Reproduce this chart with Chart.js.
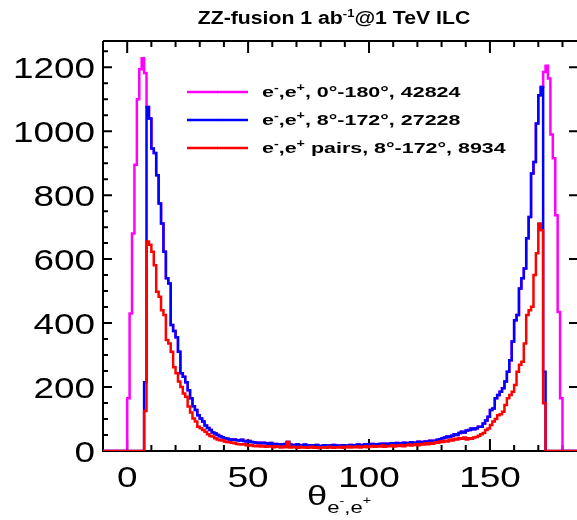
<!DOCTYPE html>
<html>
<head>
<meta charset="utf-8">
<script src="https://cdn.jsdelivr.net/npm/chart.js@4.4.1/dist/chart.umd.min.js"></script>
<style>
  html, body { margin: 0; padding: 0; background: #fff; }
  #wrap { width: 577px; height: 520px; }
</style>
</head>
<body>
<div id="wrap"><canvas id="chart" width="577" height="520"></canvas></div>
<script>
// Histogram data, 1 degree bins (bin i covers i..i+1)

// blue and red start at bin 7 and end at bin 172
const firstCutBin = 7;

const blueCounts = [
    215, 1076, 1040, 946, 932, 862, 774, 711, 623, 540,
    524, 394, 375, 356, 310, 243, 232, 215, 190, 165,
    140, 128, 112, 102, 92, 80, 72, 66, 58, 55,
    50, 46, 43, 40, 38, 36, 35, 36, 34, 33,
    35, 31, 30, 31, 28, 27, 25, 26, 24, 26,
    24, 22, 25, 21, 22, 20, 21, 19, 22, 28,
    20, 18, 19, 21, 17, 18, 20, 17, 16, 18,
    17, 19, 16, 15, 18, 17, 16, 18, 19, 16,
    17, 15, 18, 17, 16, 19, 18, 17, 20, 19,
    18, 21, 19, 20, 22, 21, 19, 22, 23, 20,
    23, 22, 24, 21, 25, 24, 23, 26, 24, 25,
    27, 25, 26, 29, 27, 28, 30, 29, 32, 31,
    32, 35, 37, 40, 42, 45, 44, 48, 52, 50,
    56, 60, 58, 64, 66, 70, 68, 71, 76, 76,
    86, 95, 107, 128, 133, 165, 175, 185, 196, 217,
    248, 284, 342, 409, 425, 508, 540, 571, 665, 732,
    868, 904, 1024, 1112, 1138, 248
];

const redCounts = [
    125, 655, 645, 623, 581, 498, 482, 440, 425, 347,
    336, 310, 262, 243, 217, 200, 180, 170, 139, 120,
    102, 92, 76, 71, 66, 60, 52, 47, 45, 40,
    36, 34, 33, 30, 28, 27, 26, 24, 22, 21,
    20, 21, 18, 17, 19, 16, 15, 17, 14, 16,
    13, 15, 14, 12, 15, 13, 11, 14, 12, 28,
    11, 13, 12, 10, 13, 11, 12, 10, 11, 13,
    10, 12, 9, 11, 12, 10, 13, 11, 10, 12,
    11, 13, 10, 12, 14, 11, 13, 12, 14, 11,
    13, 15, 12, 14, 16, 13, 15, 14, 17, 13,
    16, 15, 18, 14, 17, 16, 19, 15, 18, 20,
    17, 19, 21, 18, 22, 20, 24, 21, 25, 23,
    27, 26, 30, 28, 32, 30, 35, 33, 38, 36,
    40, 38, 42, 36, 40, 38, 42, 44, 48, 52,
    56, 66, 70, 81, 92, 100, 112, 115, 123, 144,
    165, 175, 185, 206, 248, 270, 279, 336, 425, 440,
    451, 550, 618, 711, 690, 149
];

// magenta (0-180) only differs from blue outside 8-172
const magentaLow = [165, 430, 680, 895, 1100, 1194, 1228, 1182];   // bins 0-7
const magentaHigh = [1185, 1205, 1165, 990, 915, 737, 435, 165];   // bins 172-179

const xRange = [-10, 186];
const yRange = [0, 1282];
const xTickLabels = [0, 50, 100, 150];
const yTickLabels = [0, 200, 400, 600, 800, 1000, 1200];

const legendLabels = [
    [['e', ''], ['-', 'sup'], [',e', ''], ['+', 'sup'], [', 0\u00b0-180\u00b0, 42824', '']],
    [['e', ''], ['-', 'sup'], [',e', ''], ['+', 'sup'], [', 8\u00b0-172\u00b0, 27228', '']],
    [['e', ''], ['-', 'sup'], [',e', ''], ['+', 'sup'], [' pairs, 8\u00b0-172\u00b0, 8934', '']]
];
const colors = ['#ff00ff', '#0000ff', '#ff0000'];

const FONT = '"Liberation Sans", Arial, Helvetica, sans-serif';

// Build magenta from its tails plus the blue core
function buildMagenta() {
    const counts = [];
    for (let i = 0; i < 180; i++) {
        if (i < magentaLow.length) counts.push(magentaLow[i]);
        else if (i >= 172) counts.push(magentaHigh[i - 172]);
        else counts.push(blueCounts[i - firstCutBin]);
    }
    return counts;
}

// Turn bin counts into step points at the bin low edges
function histPoints(start, counts) {
    const pts = [{ x: xRange[0], y: 0 }, { x: start, y: 0 }];
    counts.forEach((c, i) => pts.push({ x: start + i, y: c }));
    pts.push({ x: start + counts.length, y: 0 });
    pts.push({ x: xRange[1], y: 0 });
    return pts;
}

// Draw a run of text pieces with superscripts, stretched sideways by sx
// (the text in the picture is wider than the plain font)
function richText(ctx, runs, x, y, align, sx) {
    ctx.save();
    let total = 0;
    runs.forEach(r => {
        ctx.font = r.font;
        total += ctx.measureText(r.text).width * sx;
    });
    let cx = align === 'right' ? x - total : align === 'center' ? x - total / 2 : x;
    runs.forEach(r => {
        ctx.font = r.font;
        ctx.save();
        ctx.translate(cx, y + (r.dy || 0));
        ctx.scale(sx, 1);
        ctx.fillText(r.text, 0, 0);
        ctx.restore();
        cx += ctx.measureText(r.text).width * sx;
    });
    ctx.restore();
}

const framePlugin = {
    id: 'frame',
    beforeDatasetsDraw(chart) {
        const { ctx, chartArea: a, scales } = chart;
        const xs = scales.x, ys = scales.y;
        ctx.save();
        ctx.strokeStyle = '#000';
        ctx.lineWidth = 2;
        ctx.beginPath();
        ctx.moveTo(a.left, a.top);
        ctx.lineTo(a.left, a.bottom);
        ctx.lineTo(a.right, a.bottom);
        ctx.moveTo(a.left, a.top);
        ctx.lineTo(a.right, a.top);
        // x ticks, bottom and top
        for (let v = 0; v <= 180; v += 10) {
            const px = xs.getPixelForValue(v);
            const len = v % 50 === 0 ? 12 : 6;
            ctx.moveTo(px, a.bottom);
            ctx.lineTo(px, a.bottom - len);
            ctx.moveTo(px, a.top);
            ctx.lineTo(px, a.top + len);
        }
        // y ticks, left minor+major, right major
        for (let v = 0; v <= yRange[1]; v += 50) {
            const py = ys.getPixelForValue(v);
            const major = v % 200 === 0;
            ctx.moveTo(a.left, py);
            ctx.lineTo(a.left + (major ? 9 : 5), py);
            if (major) {
                ctx.moveTo(a.right, py);
                ctx.lineTo(a.right - 8, py);
            }
        }
        ctx.stroke();
        ctx.restore();
    },
    afterDraw(chart) {
        const { ctx, chartArea: a, scales } = chart;
        const xs = scales.x, ys = scales.y;
        ctx.save();
        ctx.fillStyle = '#000';
        ctx.textBaseline = 'alphabetic';

        const tickFont = '30px ' + FONT;
        yTickLabels.forEach(v => {
            richText(ctx, [{ text: String(v), font: tickFont }], a.left - 8, ys.getPixelForValue(v) + 11, 'right', 1.23);
        });
        xTickLabels.forEach(v => {
            richText(ctx, [{ text: String(v), font: tickFont }], xs.getPixelForValue(v), 487, 'center', 1.23);
        });

        // axis title
        richText(ctx, [
            { text: '\u03b8', font: '28px ' + FONT },
            { text: 'e', font: '17px ' + FONT, dy: 8 },
            { text: '-', font: '11px ' + FONT, dy: -1 },
            { text: ',e', font: '17px ' + FONT, dy: 8 },
            { text: '+', font: '11px ' + FONT, dy: -1 }
        ], 339, 505, 'center', 1.3);

        // title
        richText(ctx, [
            { text: 'ZZ-fusion 1 ab', font: 'bold 18px ' + FONT },
            { text: '-1', font: 'bold 11px ' + FONT, dy: -7 },
            { text: '@1 TeV ILC', font: 'bold 18px ' + FONT }
        ], 334, 24, 'center', 1.18);

        // legend
        legendLabels.forEach((label, i) => {
            const y = 92 + i * 28;
            ctx.strokeStyle = colors[i];
            ctx.lineWidth = 2.5;
            ctx.beginPath();
            ctx.moveTo(187, y);
            ctx.lineTo(248, y);
            ctx.stroke();
            ctx.fillRect(217, y - 0.5, 1, 1);
            const runs = label.map(([text, kind]) => kind === 'sup'
                ? { text: text, font: 'bold 10px ' + FONT, dy: -6 }
                : { text: text, font: 'bold 15px ' + FONT });
            richText(ctx, runs, 262, y + 5, 'left', 1.43);
        });
        ctx.restore();
    }
};

const magentaCounts = buildMagenta();

function lineSet(label, color, start, counts, order) {
    return {
        label: label,
        data: histPoints(start, counts),
        borderColor: color,
        borderWidth: 2.5,
        stepped: 'before',
        pointRadius: 0,
        fill: false,
        order: order
    };
}

const ctx = document.getElementById('chart').getContext('2d');
const chart = new Chart(ctx, {
    type: 'line',
    data: {
        datasets: [
            lineSet('e-,e+ pairs, 8-172', colors[2], firstCutBin, redCounts, 0),
            lineSet('e-,e+, 8-172', colors[1], firstCutBin, blueCounts, 1),
            lineSet('e-,e+, 0-180', colors[0], 0, magentaCounts, 2)
        ]
    },
    options: {
        responsive: false,
        animation: false,
        layout: { padding: { left: 103, right: 0, top: 41, bottom: 69 } },
        plugins: {
            legend: { display: false },
            tooltip: { enabled: false }
        },
        scales: {
            x: { type: 'linear', min: xRange[0], max: xRange[1], display: false },
            y: { min: yRange[0], max: yRange[1], display: false }
        }
    },
    plugins: [framePlugin]
});
</script>
</body>
</html>
